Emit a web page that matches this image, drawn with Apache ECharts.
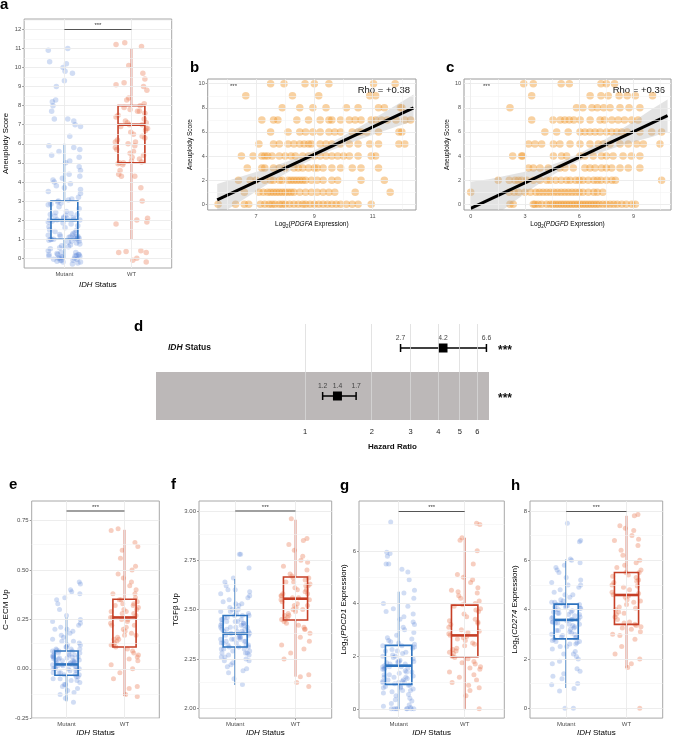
<!DOCTYPE html>
<html><head><meta charset="utf-8">
<script src="https://cdn.jsdelivr.net/npm/echarts@6/dist/echarts.min.js"></script>
<style>html,body{margin:0;padding:0;background:#fff}#c{width:677px;height:739px}</style>
</head><body><div id="c"></div>
<script>
// ---------------- DATA ----------------
const CATS = ['Mutant', 'WT'];
const JIT = [0.12,-0.21,0.05,0.23,-0.08,-0.22,0.18,-0.02,0.2,-0.15,0.09,-0.24,0.01,0.22,-0.11,0.16,-0.19,0.07,-0.05,0.2,-0.23,0.13,0.03,-0.17,0.24,-0.09,0.1,-0.2,0.19,-0.01,-0.13,0.22,0.06,-0.24,0.15,-0.07,0.21,-0.18,0.02,0.11,-0.22,0.17,-0.04,0.24,-0.12,0.08,-0.2,0.14,-0.06,0.23,-0.16,0.0,0.22,-0.1,0.04,-0.24,0.18,-0.03,0.12,-0.19,0.21,-0.14,0.09,-0.23,0.16,0.01,-0.08,0.24,-0.21,0.06,-0.11,0.22,-0.02,0.14,-0.24,0.1,-0.16,0.2,-0.06,0.03,-0.23,0.24,-0.13,0.07,0.17,-0.09,-0.22,0.23,0.0,-0.18,0.13,-0.04,0.19,-0.24,0.08,-0.12,0.23,-0.07,0.15,-0.2,0.05,0.24,-0.15,-0.01,0.11,-0.23,0.2,-0.05,0.16,-0.17,0.02,0.22,-0.1,0.09,-0.24,0.14,-0.03,0.22,-0.14,0.06];

// panel a: aneuploidy score by IDH status
const A_MUT = [-0.3,-0.2,-0.15,-0.1,-0.05,0,0.05,0.1,0.15,0.2,0.25,-0.25,0.3,-0.1,0.0,0.1,0.2,0.6,0.8,0.9,0.95,1.0,1.05,1.1,1.15,1.2,0.7,0.85,1.0,1.1,1.3,1.25,0.9,1.05,1.4,1.5,1.6,1.7,1.8,1.9,2.0,2.05,2.1,2.2,2.3,2.35,2.4,1.95,2.0,2.1,2.25,2.6,2.7,2.8,2.9,3.0,3.05,3.1,2.85,2.95,3.2,3.4,3.5,3.6,3.7,3.8,4.0,4.1,4.2,4.3,3.9,4.4,4.6,4.8,5.0,5.1,5.3,5.4,5.6,5.8,5.9,5.7,6.4,6.9,7.0,7.2,7.3,7.3,7.7,8.0,8.3,8.2,9.0,9.3,9.7,9.8,10.0,10.2,10.3,10.9,11.0,0.3,0.4,0.5,1.15,1.35,2.45,2.15,0.2,-0.2,-0.05,0.08,0.12,0.18,-0.12,0.02,1.02,0.98,1.08,1.12,1.22,1.85,2.02,2.12,2.28,0.55,0.65,0.75,1.45,1.65];
const A_WT = [-0.2,-0.1,0.0,0.3,0.3,0.35,0.4,1.8,1.9,2.0,2.1,3.0,3.7,4.3,4.3,4.4,4.6,4.9,5.0,5.0,5.1,5.2,5.3,5.5,5.6,5.7,5.8,5.9,6.0,6.1,6.2,6.3,6.4,6.5,6.6,6.7,6.8,6.9,7.0,7.0,7.1,7.1,7.2,7.3,7.5,7.6,7.7,7.7,7.8,7.9,8.0,8.1,8.3,8.4,8.8,9.0,9.1,9.2,9.4,9.7,10.1,11.1,11.2,11.3,6.1,5.4,6.8,7.4,4.95,5.05];
// box stats: [category, lower whisker, Q1, median, Q3, upper whisker]
const A_BOX = [[1, 0, 1, 2, 3, 6], [2, 1, 5, 7, 8, 11]];
const A_SIG = 12;

// panel b: aneuploidy score vs log2 PDGFA (x values listed per score 0..10)
const B_X = [
  [5.7,6.3,6.6,6.75,7.15,7.3,7.45,7.55,7.65,7.8,7.9,8.0,8.15,8.3,8.45,8.6,8.7,8.85,9.0,9.15,9.3,9.45,9.6,9.75,9.9,10.1,10.3,10.5,10.95],
  [6.6,7.1,7.25,7.4,7.5,7.6,7.7,7.8,7.9,8.0,8.1,8.2,8.3,8.5,8.7,8.9,9.1,9.3,9.5,9.7,10.4,11.6],
  [6.4,6.8,7.0,7.3,7.5,7.6,7.8,7.9,8.1,8.2,8.3,8.4,8.5,8.6,8.7,8.9,9.1,9.3,9.6,9.8,10.6,11.4],
  [6.7,7.2,7.3,7.6,7.8,8.0,8.3,8.45,8.6,8.8,9.0,9.1,9.3,9.6,9.9,10.3,10.6,11.2],
  [6.5,6.9,7.2,7.3,7.4,7.55,7.8,8.0,8.2,8.35,8.6,8.8,9.0,9.2,9.4,9.6,9.8,10.0,10.2,10.5,10.95,11.1],
  [7.1,7.6,7.8,8.1,8.3,8.5,8.65,8.8,8.9,9.2,9.4,9.6,9.9,10.2,10.5,10.9,11.2,11.9,12.1],
  [7.5,8.1,8.5,8.7,8.95,9.2,9.5,9.7,9.9,10.3,10.5,10.6,10.8,11.2,11.9,12.0],
  [7.2,7.6,7.75,8.4,8.8,9.2,9.5,9.6,9.9,10.2,10.4,10.6,10.95,11.1,11.3,11.5,11.8,12.1,12.3],
  [7.9,8.5,8.95,9.4,10.1,10.5,11.2,11.4,11.95,12.0],
  [6.65,8.25,9.15,10.9,11.1],
  [7.5,7.96,8.68,9.0,9.5,11.03,11.77]
];
const B_LINE = [[5.67, 0.36], [12.4, 8.0]];
const B_BAND_X = [5.67, 6.5, 7.5, 8.5, 9.5, 10.5, 11.5, 12.4];
const B_BAND_LO = [-0.96, 0.30, 1.82, 3.22, 4.39, 5.34, 6.18, 6.9];
const B_BAND_HI = [1.68, 2.30, 3.06, 3.92, 5.03, 6.34, 7.78, 9.1];
const B_RHO = 'Rho = +0.38';

// panel c: aneuploidy score vs log2 PDGFD
const C_X = [
  [2.17,2.35,3.46,3.55,3.73,3.92,4.2,4.4,4.55,4.7,4.85,5.0,5.15,5.3,5.45,5.6,5.75,5.9,6.05,6.2,6.35,6.5,6.65,6.8,6.95,7.1,7.3,7.5,7.7,7.9,8.1,8.35,8.6,8.9,9.1],
  [0,2.13,2.4,2.65,3.0,3.3,3.6,3.8,4.0,4.2,4.4,4.6,4.8,5.0,5.2,5.4,5.6,5.8,6.0,6.2,6.5,6.8,7.0,7.3],
  [1.52,2.13,2.45,2.63,2.81,3.09,3.46,3.83,4.2,4.4,4.7,5.0,5.3,5.5,5.8,6.0,6.2,6.5,6.8,7.0,7.2,7.5,7.8,8.0,10.55],
  [3.2,3.46,3.83,4.29,4.93,5.21,5.67,6.31,6.59,6.87,7.23,7.5,7.79,8.25,8.71,9.35],
  [2.32,2.81,2.87,4.57,5.02,5.3,6.04,6.31,6.77,7.23,7.5,7.87,8.42,8.88,9.35],
  [3.2,3.55,3.92,4.57,4.93,5.49,6.04,6.59,7.05,7.33,7.7,8.25,8.71,9.17,9.54,10.46],
  [4.1,4.75,5.39,6.04,6.31,6.59,6.87,7.15,7.5,7.79,8.07,8.34,8.65,9.35,10.0,10.55],
  [3.37,4.55,4.95,5.2,5.45,5.7,6.05,6.6,7.15,7.4,7.8,8.15,8.5,8.9,9.25],
  [2.17,5.85,6.2,6.7,7.0,7.35,7.7,8.25,8.75,9.35],
  [3.37,6.6,7.2,7.6,8.2,8.65,9.1,10.05],
  [2.93,3.46,5.0,5.45,7.2,7.5,7.95]
];
const C_LINE = [[0, -0.33], [10.88, 7.35]];
const C_BAND_X = [0, 1, 2, 3, 4, 5, 6, 7, 8, 9, 10, 10.88];
const C_BAND_LO = [-2.53,-1.32,-0.22,0.89,1.94,2.85,3.61,4.21,4.72,5.17,5.58,6.0];
const C_BAND_HI = [1.87,2.08,2.38,2.69,3.04,3.55,4.21,5.01,5.92,6.87,7.88,8.7];
const C_RHO = 'Rho = +0.36';

// panel d: Cox model hazard ratios
const D_ROWS = ['{bi|IDH} Status', 'Log{bs|2}(Aneuploidy Score)'];
const D_HR = [4.2, 1.4];
const D_LO = [2.7, 1.2];
const D_HI = [6.6, 1.7];
const D_SIG = ['***', '***'];
const D_TICKS = [1, 2, 3, 4, 5, 6];

// panel e: C-ECM Up
const E_MUT = [-0.17,-0.15,-0.13,-0.12,-0.1,-0.09,-0.08,-0.07,-0.06,-0.05,-0.05,-0.04,-0.04,-0.03,-0.03,-0.02,-0.02,-0.01,-0.01,0,0,0.005,0.01,0.01,0.015,0.02,0.02,0.025,0.03,0.03,0.035,0.04,0.04,0.045,0.05,0.05,0.055,0.06,0.06,0.065,0.07,0.07,0.075,0.08,0.085,0.09,0.09,0.1,0.1,0.11,0.12,0.13,0.14,0.15,0.16,0.17,0.18,0.19,0.2,0.21,0.22,0.23,0.24,0.25,0.27,0.3,0.33,0.35,0.36,0.38,0.39,0.4,0.43,0.44,-0.11,-0.06,-0.03,0.0,0.02,0.04,0.06,0.08,0.1,0.12,-0.01,0.03,0.07,0.015,0.045,0.095,-0.02,0.025,0.055,0.11,0.14,0.2,-0.08,0.0,0.06,0.09];
const E_WT = [-0.14,-0.13,-0.1,-0.09,-0.05,-0.02,0,0.02,0.04,0.05,0.07,0.08,0.09,0.1,0.11,0.12,0.13,0.14,0.15,0.16,0.17,0.18,0.19,0.2,0.21,0.22,0.23,0.24,0.25,0.26,0.26,0.27,0.28,0.29,0.3,0.3,0.31,0.32,0.33,0.33,0.34,0.35,0.35,0.36,0.38,0.4,0.42,0.44,0.46,0.48,0.5,0.52,0.56,0.6,0.62,0.64,0.7,0.71,0.17,0.22,0.28,0.32,0.12,0.15,0.25,0.38,0.06,0.29];
const E_BOX = [[1, -0.165, -0.033, 0.022, 0.09, 0.26], [2, -0.138, 0.11, 0.26, 0.352, 0.704]];
const E_SIG = 0.8;

// panel f: TGFβ Up
const F_MUT = [2.12,2.15,2.18,2.19,2.2,2.22,2.23,2.24,2.25,2.26,2.27,2.28,2.28,2.29,2.3,2.3,2.31,2.31,2.32,2.32,2.33,2.33,2.34,2.34,2.35,2.35,2.36,2.36,2.37,2.37,2.38,2.38,2.39,2.39,2.4,2.4,2.41,2.41,2.42,2.42,2.43,2.43,2.44,2.44,2.45,2.45,2.46,2.46,2.47,2.47,2.48,2.48,2.49,2.49,2.5,2.51,2.52,2.53,2.54,2.55,2.56,2.57,2.58,2.59,2.6,2.6,2.62,2.64,2.66,2.71,2.78,2.78,2.29,2.31,2.33,2.35,2.37,2.39,2.41,2.43,2.45,2.27,2.36,2.38,2.4,2.42,2.5,2.34,2.3,2.26,2.21,2.24,2.32,2.44,2.47,2.53,2.35,2.39,2.28,2.41];
const F_WT = [2.11,2.13,2.16,2.17,2.25,2.28,2.3,2.32,2.34,2.36,2.38,2.4,2.41,2.42,2.43,2.44,2.45,2.46,2.47,2.48,2.49,2.5,2.51,2.52,2.53,2.54,2.55,2.56,2.56,2.57,2.58,2.58,2.59,2.6,2.61,2.62,2.63,2.64,2.64,2.65,2.66,2.67,2.68,2.7,2.72,2.74,2.75,2.77,2.8,2.83,2.85,2.86,2.96,2.5,2.55,2.6,2.45,2.47,2.52,2.62,2.66,2.4,2.57];
const F_BOX = [[1, 2.118, 2.31, 2.378, 2.47, 2.655], [2, 2.16, 2.447, 2.555, 2.665, 2.955]];
const F_SIG = 3.0;

// panel g: log2 PDCD1
const G_MUT = [0,0,0,0,0,0,0,0,0.05,0.1,0.2,0.3,0.4,0.5,0.55,0.6,0.65,0.7,0.7,0.75,0.8,0.85,0.9,0.9,0.95,1.0,1.0,1.05,1.1,1.1,1.15,1.2,1.2,1.25,1.3,1.3,1.35,1.4,1.45,1.5,1.5,1.55,1.6,1.6,1.65,1.7,1.7,1.75,1.8,1.8,1.85,1.9,1.95,2.0,2.0,2.05,2.1,2.15,2.2,2.25,2.3,2.35,2.4,2.45,2.5,2.55,2.6,2.7,2.8,2.9,3.0,3.1,3.2,3.3,3.4,3.5,3.6,3.7,3.8,3.9,4.0,4.2,4.4,4.5,4.9,5.2,5.3,5.5,5.5,5.8,5.9,5.95,7.1,1.0,1.4,1.8,2.2,0.8,1.2,1.6,2.4,0.35,1.05,1.55,2.65,0.15,0.85,1.75];
const G_WT = [0,0.5,0.7,0.8,1.0,1.2,1.3,1.4,1.5,1.55,1.6,1.7,1.8,1.9,1.95,2.0,2.1,2.2,2.25,2.3,2.4,2.5,2.6,2.7,2.75,2.8,2.85,2.9,3.0,3.1,3.2,3.3,3.4,3.5,3.6,3.7,3.8,3.9,3.95,4.0,4.1,4.2,4.3,4.4,4.5,4.6,4.8,4.9,5.0,5.1,5.5,6.0,6.4,6.5,7.0,7.05,2.15,2.65,3.25,3.75,1.75,2.45,3.35,4.45,0.9,1.1,2.95];
const G_BOX = [[1, 0, 0.93, 1.64, 2.41, 4.45], [2, 0, 1.98, 2.79, 3.94, 6.5]];
const G_SIG = 7.52;

// panel h: log2 CD274
const H_MUT = [0,0,0.7,0.8,1.0,1.2,1.4,1.5,1.6,1.8,1.9,2.0,2.1,2.2,2.3,2.4,2.5,2.6,2.65,2.7,2.75,2.8,2.85,2.9,2.95,3.0,3.05,3.1,3.15,3.2,3.25,3.3,3.35,3.4,3.45,3.5,3.55,3.6,3.6,3.65,3.7,3.75,3.8,3.85,3.9,3.95,4.0,4.0,4.05,4.1,4.15,4.2,4.25,4.3,4.35,4.4,4.5,4.6,4.7,4.8,4.9,5.0,5.1,5.2,5.3,5.5,5.6,5.7,5.8,5.9,6.0,6.05,6.8,6.75,7.5,3.6,3.8,4.1,2.9,3.3,3.5,3.7,3.9,4.05,2.6,3.0,3.4,4.2,4.3,2.7,3.15,3.45,3.85,4.15,2.2,2.5,4.6,5.0,1.3,0.95];
const H_WT = [0,1.65,1.8,2.0,2.2,2.5,2.8,3.0,3.1,3.2,3.3,3.35,3.4,3.5,3.6,3.7,3.8,3.9,4.0,4.1,4.2,4.3,4.4,4.5,4.55,4.6,4.7,4.8,4.9,5.0,5.1,5.2,5.3,5.4,5.5,5.5,5.6,5.7,5.8,5.9,6.0,6.2,6.4,6.6,6.8,6.85,7.0,7.2,7.3,7.4,7.8,7.85,3.25,3.85,4.35,4.95,5.35,2.95,4.65,5.15,3.45,4.05];
const H_BOX = [[1, 0.82, 2.81, 3.58, 4.22, 6.03], [2, 1.64, 3.4, 4.59, 5.5, 7.8]];
const H_SIG = 8;

// ---------------- STYLE / BUILD ----------------
const FONT = '"Liberation Sans", Arial, Helvetica, sans-serif';
const BOX_COLORS = ['#2e73bf', '#c63f26'];
const PT_COLORS = ['rgba(80,125,215,0.33)', 'rgba(232,120,80,0.45)'];
const GRID_MAJOR = '#ebebeb', GRID_MINOR = '#f3f3f3';
const grids = [], xAxes = [], yAxes = [], series = [], graphics = [];

function gridLines(i, hv, vv, color, width) {
  const data = [];
  hv.forEach(v => data.push({ yAxis: v }));
  vv.forEach(v => data.push({ xAxis: v }));
  series.push({ type: 'scatter', xAxisIndex: i, yAxisIndex: i, data: [], z: 1, silent: true,
    markLine: { silent: true, symbol: ['none', 'none'], animation: false, label: { show: false },
      emphasis: { disabled: true }, lineStyle: { color: color, width: width, type: 'solid', opacity: 1 }, data: data } });
}
function titleStyle(fs) {
  return { fontSize: fs, color: '#000', fontFamily: FONT, lineHeight: fs + 2,
    rich: { i: { fontStyle: 'italic', fontSize: fs, fontFamily: FONT, color: '#000', lineHeight: fs + 2 },
            s: { fontSize: fs * 0.68, fontFamily: FONT, color: '#000', lineHeight: fs * 0.6, verticalAlign: 'bottom' } } };
}

function boxPanel(i, p) {
  grids.push({ left: p.rect[0], top: p.rect[1], width: p.rect[2], height: p.rect[3], show: true,
    borderColor: '#a8a8a8', borderWidth: 1, backgroundColor: '#fff' });
  xAxes.push({ gridIndex: i, type: 'value', min: 0.4, max: 2.6, axisLine: { show: false }, splitLine: { show: false },
    axisTick: { show: true, customValues: [1, 2], length: 2, lineStyle: { color: '#999' } },
    axisLabel: { customValues: [1, 2], formatter: v => CATS[Math.round(v) - 1], fontSize: p.tickFont, color: '#4d4d4d', margin: 3, fontFamily: FONT },
    name: '{i|IDH} Status', nameLocation: 'middle', nameGap: p.xGap, nameTextStyle: titleStyle(p.titleFont) });
  yAxes.push({ gridIndex: i, type: 'value', min: p.ymin, max: p.ymax, axisLine: { show: false }, splitLine: { show: false },
    axisTick: { show: true, customValues: p.yticks, length: 2, lineStyle: { color: '#999' } },
    axisLabel: { customValues: p.yticks, formatter: p.fmt, fontSize: p.tickFont, color: '#4d4d4d', margin: 3, fontFamily: FONT },
    name: p.ytitle, nameLocation: 'middle', nameGap: p.yGap, nameTextStyle: titleStyle(p.titleFont) });
  gridLines(i, p.yminor, [], GRID_MINOR, 0.6);
  gridLines(i, p.yticks, [1, 2], GRID_MAJOR, 0.9);
  [p.mut, p.wt].forEach((vals, g) => {
    series.push({ type: 'scatter', xAxisIndex: i, yAxisIndex: i, z: 2, silent: true, symbolSize: p.ptSize,
      itemStyle: { color: PT_COLORS[g] },
      data: vals.map((y, k) => [g + 1 + JIT[(k * 7 + g * 31) % JIT.length], y]) });
  });
  series.push({ type: 'custom', xAxisIndex: i, yAxisIndex: i, z: 3, silent: true, data: p.box,
    renderItem: (params, api) => {
      const x = api.value(0);
      const c = BOX_COLORS[x - 1];
      const hw = api.size([0.4, 0])[0] / 2;
      const pLo = api.coord([x, api.value(1)]), pQ1 = api.coord([x, api.value(2)]), pMd = api.coord([x, api.value(3)]),
            pQ3 = api.coord([x, api.value(4)]), pHi = api.coord([x, api.value(5)]);
      const ls = { stroke: c, lineWidth: 1.6 };
      return { type: 'group', children: [
        { type: 'line', shape: { x1: pLo[0], y1: pLo[1], x2: pQ1[0], y2: pQ1[1] }, style: ls },
        { type: 'line', shape: { x1: pQ3[0], y1: pQ3[1], x2: pHi[0], y2: pHi[1] }, style: ls },
        { type: 'rect', shape: { x: pQ1[0] - hw, y: pQ3[1], width: 2 * hw, height: pQ1[1] - pQ3[1] }, style: { stroke: c, lineWidth: 1.6, fill: 'rgba(0,0,0,0)' } },
        { type: 'line', shape: { x1: pMd[0] - hw, y1: pMd[1], x2: pMd[0] + hw, y2: pMd[1] }, style: { stroke: c, lineWidth: 2.6 } }
      ] };
    } });
  series.push({ type: 'scatter', xAxisIndex: i, yAxisIndex: i, data: [], z: 3, silent: true,
    markLine: { silent: true, symbol: ['none', 'none'], animation: false,
      lineStyle: { color: p.sigColor, width: p.sigWidth, type: 'solid' },
      label: { show: true, position: 'middle', formatter: '***', fontSize: 6, color: '#333', distance: 1, fontFamily: FONT },
      data: [[{ coord: [1, p.sig] }, { coord: [2, p.sig] }]] } });
}

function scatterPanel(i, p) {
  grids.push({ left: p.rect[0], top: p.rect[1], width: p.rect[2], height: p.rect[3], show: true,
    borderColor: '#9a9a9a', borderWidth: 1, backgroundColor: '#fff' });
  xAxes.push({ gridIndex: i, type: 'value', min: p.xmin, max: p.xmax, axisLine: { show: false }, splitLine: { show: false },
    axisTick: { show: true, customValues: p.xticks, length: 2, lineStyle: { color: '#999' } },
    axisLabel: { customValues: p.xticks, fontSize: 5.5, color: '#4d4d4d', margin: 3, fontFamily: FONT },
    name: p.xtitle, nameLocation: 'middle', nameGap: 10, nameTextStyle: titleStyle(6.5) });
  yAxes.push({ gridIndex: i, type: 'value', min: -0.473, max: 10.39, axisLine: { show: false }, splitLine: { show: false },
    axisTick: { show: true, customValues: [0, 2, 4, 6, 8, 10], length: 2, lineStyle: { color: '#999' } },
    axisLabel: { customValues: [0, 2, 4, 6, 8, 10], fontSize: 5.5, color: '#4d4d4d', margin: 3, fontFamily: FONT },
    name: 'Aneuploidy Score', nameLocation: 'middle', nameGap: 9, nameTextStyle: titleStyle(6.5) });
  gridLines(i, [1, 3, 5, 7, 9], p.xminor, GRID_MINOR, 0.6);
  gridLines(i, [0, 2, 4, 6, 8, 10], p.xticks, GRID_MAJOR, 0.9);
  series.push({ type: 'scatter', xAxisIndex: i, yAxisIndex: i, z: 2, silent: true, symbolSize: 7.5,
    itemStyle: { color: 'rgba(238,150,40,0.55)' },
    data: p.xs.flatMap((row, score) => row.map(x => [x, score])) });
  series.push({ type: 'custom', xAxisIndex: i, yAxisIndex: i, z: 3, silent: true, clip: true, data: [[p.bx[0], p.blo[0]]],
    renderItem: (params, api) => {
      const pts = [];
      p.bx.forEach((x, k) => pts.push(api.coord([x, p.bhi[k]])));
      for (let k = p.bx.length - 1; k >= 0; k--) pts.push(api.coord([p.bx[k], p.blo[k]]));
      return { type: 'polygon', shape: { points: pts }, style: { fill: 'rgba(175,175,175,0.35)' } };
    } });
  series.push({ type: 'line', xAxisIndex: i, yAxisIndex: i, z: 4, silent: true, symbol: 'none', data: p.line,
    lineStyle: { color: '#000', width: 3 } });
}

// a
boxPanel(0, { rect: [19, 19, 152.7, 249], ymin: -0.51, ymax: 12.54, yticks: [0,1,2,3,4,5,6,7,8,9,10,11,12],
  yminor: [0.5,1.5,2.5,3.5,4.5,5.5,6.5,7.5,8.5,9.5,10.5,11.5,12.5], fmt: v => String(v), ytitle: 'Aneuploidy Score',
  mut: A_MUT, wt: A_WT, box: A_BOX, sig: A_SIG, sigColor: '#555', sigWidth: 1, tickFont: 5.8, titleFont: 7.8, xGap: 12, yGap: 10, ptSize: 5.5 });
// b
scatterPanel(1, { rect: [207.7, 79, 208.3, 131], xmin: 5.344, xmax: 12.485, xticks: [7, 9, 11], xminor: [6, 8, 10, 12],
  xtitle: 'Log{s|2}({i|PDGFA} Expression)', xs: B_X, line: B_LINE, bx: B_BAND_X, blo: B_BAND_LO, bhi: B_BAND_HI });
// c
scatterPanel(2, { rect: [464, 79, 207, 131], xmin: -0.37, xmax: 11.07, xticks: [0, 3, 6, 9], xminor: [1.5, 4.5, 7.5, 10.5],
  xtitle: 'Log{s|2}({i|PDGFD} Expression)', xs: C_X, line: C_LINE, bx: C_BAND_X, blo: C_BAND_LO, bhi: C_BAND_HI });

// d forest
grids.push({ left: 156, top: 324, width: 333, height: 96, show: false });
xAxes.push({ gridIndex: 3, type: 'value', min: -2.239, max: 2.761, axisLine: { show: false }, splitLine: { show: false },
  axisTick: { show: false }, axisLabel: { customValues: D_TICKS.map(Math.log2), formatter: v => String(Math.round(Math.pow(2, v))),
  fontSize: 7.5, color: '#222', margin: 8, fontFamily: FONT } });
yAxes.push({ gridIndex: 3, type: 'category', data: D_ROWS, inverse: true, axisLine: { show: false }, axisTick: { show: false },
  splitLine: { show: false },
  axisLabel: { inside: true, margin: 12, fontSize: 8.5, fontWeight: 'bold', color: '#111', fontFamily: FONT,
    rich: { bi: { fontStyle: 'italic', fontWeight: 'bold', fontSize: 8.5, fontFamily: FONT, color: '#111', lineHeight: 11 },
            bs: { fontWeight: 'bold', fontSize: 5.5, fontFamily: FONT, color: '#111', lineHeight: 5, verticalAlign: 'bottom' } },
    lineHeight: 11 } });
series.push({ type: 'custom', xAxisIndex: 3, yAxisIndex: 3, z: 1, silent: true, data: [[0, 1]],
  renderItem: (params, api) => {
    const cs = params.coordSys;
    const c = api.coord([0, api.value(1)]);
    const h = Math.abs(api.size([0, 1])[1]);
    return { type: 'rect', shape: { x: cs.x, y: c[1] - h / 2, width: cs.width, height: h }, style: { fill: '#bcb8b8' } };
  } });
gridLines(3, [], D_TICKS.map(Math.log2), 'rgba(218,218,218,0.75)', 1);
series.push({ type: 'custom', xAxisIndex: 3, yAxisIndex: 3, z: 4, silent: true,
  data: D_HR.map((hr, r) => [r, Math.log2(D_LO[r]), Math.log2(hr), Math.log2(D_HI[r])]),
  renderItem: (params, api) => {
    const r = api.value(0), k = params.dataIndex;
    const pL = api.coord([api.value(1), r]), pE = api.coord([api.value(2), r]), pH = api.coord([api.value(3), r]);
    const cs = params.coordSys;
    const st = { stroke: '#000', lineWidth: 1.5 };
    const txt = (x, y, s) => ({ type: 'text', x: x, y: y, style: { text: s, fontSize: 6.8, fontFamily: FONT, fill: '#444', align: 'center', verticalAlign: 'bottom' } });
    return { type: 'group', children: [
      { type: 'line', shape: { x1: pL[0], y1: pL[1], x2: pH[0], y2: pH[1] }, style: st },
      { type: 'line', shape: { x1: pL[0], y1: pL[1] - 4, x2: pL[0], y2: pL[1] + 4 }, style: st },
      { type: 'line', shape: { x1: pH[0], y1: pH[1] - 4, x2: pH[0], y2: pH[1] + 4 }, style: st },
      { type: 'rect', shape: { x: pE[0] - 4.5, y: pE[1] - 4.5, width: 9, height: 9 }, style: { fill: '#000' } },
      txt(pL[0], pL[1] - 6, D_LO[k].toFixed(1)), txt(pE[0], pE[1] - 6, D_HR[k].toFixed(1)), txt(pH[0], pH[1] - 6, D_HI[k].toFixed(1)),
      { type: 'text', x: cs.x + cs.width + 9, y: pE[1] + 3, style: { text: D_SIG[k], fontSize: 12, fontWeight: 'bold', fontFamily: FONT, fill: '#111', align: 'left', verticalAlign: 'middle' } }
    ] };
  } });
graphics.push({ type: 'text', left: 368, top: 443, style: { text: 'Hazard Ratio', font: 'bold 8px ' + FONT, fill: '#111' } });

// e - h
boxPanel(4, { rect: [31.7, 501, 127.6, 220.7], ymin: -0.25, ymax: 0.85, yticks: [-0.25, 0, 0.25, 0.5, 0.75],
  yminor: [-0.125, 0.125, 0.375, 0.625], fmt: v => v.toFixed(2), ytitle: 'C\u2212ECM Up',
  mut: E_MUT, wt: E_WT, box: E_BOX, sig: E_SIG, sigColor: '#a0a0a0', sigWidth: 2, tickFont: 6, titleFont: 8, xGap: 8, yGap: 17, ptSize: 5 });
boxPanel(5, { rect: [199, 501, 132.7, 220.7], ymin: 1.95, ymax: 3.05, yticks: [2, 2.25, 2.5, 2.75, 3],
  yminor: [2.125, 2.375, 2.625, 2.875], fmt: v => v.toFixed(2), ytitle: 'TGF\u03B2 Up',
  mut: F_MUT, wt: F_WT, box: F_BOX, sig: F_SIG, sigColor: '#a0a0a0', sigWidth: 2, tickFont: 6, titleFont: 8, xGap: 8, yGap: 16, ptSize: 5 });
boxPanel(6, { rect: [359, 501, 145.3, 220.7], ymin: -0.351, ymax: 7.894, yticks: [0, 2, 4, 6],
  yminor: [1, 3, 5, 7], fmt: v => String(v), ytitle: 'Log{s|2}({i|PDCD1} Expression)',
  mut: G_MUT, wt: G_WT, box: G_BOX, sig: G_SIG, sigColor: '#555', sigWidth: 1, tickFont: 6, titleFont: 8, xGap: 8, yGap: 8, ptSize: 5 });
boxPanel(7, { rect: [530, 501, 132.7, 221.3], ymin: -0.4, ymax: 8.4, yticks: [0, 2, 4, 6, 8],
  yminor: [1, 3, 5, 7], fmt: v => String(v), ytitle: 'Log{s|2}({i|CD274} Expression)',
  mut: H_MUT, wt: H_WT, box: H_BOX, sig: H_SIG, sigColor: '#555', sigWidth: 1, tickFont: 6, titleFont: 8, xGap: 8, yGap: 8, ptSize: 5 });

// annotations
const LETTERS = [['a', 0, 5], ['b', 190, 68], ['c', 446, 68], ['d', 134, 327], ['e', 9, 485], ['f', 171, 485], ['g', 340, 486], ['h', 511, 486]];
LETTERS.forEach(l => graphics.push({ type: 'text', x: l[1], y: l[2], style: { text: l[0], font: 'bold 15px ' + FONT, fill: '#000', verticalAlign: 'middle' } }));
graphics.push({ type: 'text', x: 410, y: 90, style: { text: B_RHO, font: '9.5px ' + FONT, fill: '#111', align: 'right', verticalAlign: 'middle' } });
graphics.push({ type: 'text', x: 665, y: 90, style: { text: C_RHO, font: '9.5px ' + FONT, fill: '#111', align: 'right', verticalAlign: 'middle' } });
graphics.push({ type: 'text', x: 230, y: 86, style: { text: '***', font: '6px ' + FONT, fill: '#333', verticalAlign: 'middle' } });
graphics.push({ type: 'text', x: 483, y: 86, style: { text: '***', font: '6px ' + FONT, fill: '#333', verticalAlign: 'middle' } });

const chart = echarts.init(document.getElementById('c'), null, { renderer: 'canvas' });
chart.setOption({ animation: false, backgroundColor: '#fff', grid: grids, xAxis: xAxes, yAxis: yAxes, series: series, graphic: graphics });
</script></body></html>
